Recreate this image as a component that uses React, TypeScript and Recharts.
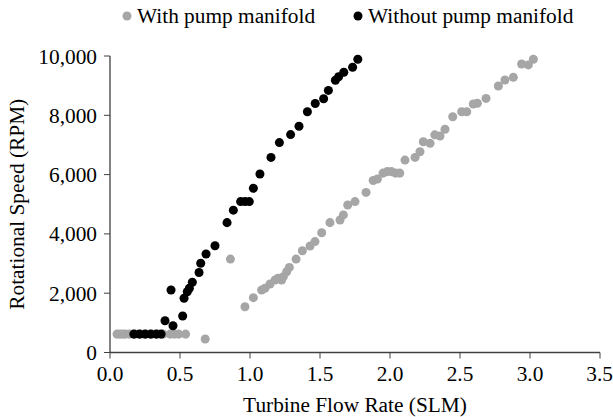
import React from 'react';
import { ScatterChart, Scatter, XAxis, YAxis, Legend } from 'recharts';

const seriesNames = ['With pump manifold', 'Without pump manifold'];
const seriesColors = ['#a6a6a6', '#000000'];

const withX = [0.05, 0.07, 0.09, 0.11, 0.14, 0.18, 0.22, 0.26, 0.3, 0.34, 0.38, 0.43, 0.46, 0.49, 0.54, 0.68, 0.86,
  0.964, 1.024, 1.083, 1.107, 1.143, 1.179, 1.2, 1.226, 1.238, 1.262, 1.281, 1.329, 1.374, 1.429, 1.464, 1.512,
  1.571, 1.643, 1.667, 1.698, 1.75, 1.829, 1.88, 1.91, 1.95, 1.98, 2.01, 2.04, 2.07, 2.107, 2.179, 2.214, 2.238,
  2.286, 2.32, 2.357, 2.393, 2.448, 2.512, 2.548, 2.595, 2.624, 2.686, 2.774, 2.821, 2.881, 2.94, 2.988, 3.024];
const withY = [620, 620, 620, 620, 620, 620, 620, 620, 620, 620, 620, 620, 620, 620, 620, 455, 3150,
  1545, 1850, 2110, 2165, 2310, 2445, 2500, 2445, 2556, 2725, 2870, 3150, 3430, 3590, 3740, 4040,
  4380, 4470, 4640, 4975, 5090, 5400, 5800, 5850, 6050, 6100, 6100, 6050, 6050, 6490, 6580, 6770, 7110,
  7055, 7340, 7300, 7530, 7950, 8120, 8120, 8380, 8405, 8570, 8990, 9190, 9280, 9730, 9700, 9890];

const withoutX = [0.17, 0.21, 0.25, 0.29, 0.33, 0.365, 0.393, 0.45, 0.436, 0.519, 0.529, 0.552, 0.567, 0.588,
  0.636, 0.648, 0.686, 0.75, 0.836, 0.881, 0.933, 0.964, 0.995, 1.024, 1.071, 1.15, 1.21, 1.29, 1.35, 1.41,
  1.466, 1.526, 1.56, 1.61, 1.633, 1.67, 1.733, 1.77];
const withoutY = [620, 620, 620, 620, 620, 620, 1070, 900, 2110, 1230, 1830, 2050, 2165, 2370,
  2700, 3010, 3320, 3600, 4380, 4800, 5090, 5090, 5090, 5540, 6020, 6580, 7080, 7350, 7630, 8120,
  8400, 8560, 8840, 9180, 9300, 9450, 9620, 9890];

const xTicks = [0, 0.5, 1, 1.5, 2, 2.5, 3, 3.5];
const yTicks = [0, 2000, 4000, 6000, 8000, 10000];

const withData = withX.map((x, i) => ({ x, y: withY[i] }));
const withoutData = withoutX.map((x, i) => ({ x, y: withoutY[i] }));

const FONT = '"Liberation Serif", "Times New Roman", Tinos, "DejaVu Serif", serif';
const FS = 21.33;
const AXIS = '#404040';

const LegendContent = () => (
  <div style={{ display: 'flex', fontFamily: FONT, fontSize: FS, color: '#000', lineHeight: '22px' }}>
    {seriesNames.map((n, i) => (
      <div key={n} style={{ display: 'flex', alignItems: 'center', marginRight: i === 0 ? 38 : 0 }}>
        <svg width={10} height={10} style={{ marginRight: 5 }}>
          <circle cx={5} cy={5} r={4.5} fill={seriesColors[i]} />
        </svg>
        <span>{n}</span>
      </div>
    ))}
  </div>
);

export default function App() {
  return (
    <div style={{ position: 'absolute', left: 0, top: 0, background: '#fff', fontFamily: FONT }}>
      <ScatterChart width={613} height={417} margin={{ top: 56, right: 13, bottom: 0, left: 0 }} style={{ fontFamily: FONT }}>
        <Legend
          verticalAlign="middle"
          align="center"
          content={<LegendContent />}
          wrapperStyle={{ position: 'absolute', left: 122, top: 5, width: 490, height: 22 }}
        />
        <XAxis
          type="number"
          dataKey="x"
          domain={[0, 3.5]}
          ticks={xTicks}
          tickFormatter={(v: number) => v.toFixed(1)}
          height={64.5}
          tickSize={6}
          tickMargin={7}
          stroke={AXIS}
          tick={{ fill: '#000', fontSize: FS, fontFamily: FONT }}
          axisLine={{ stroke: AXIS, strokeWidth: 1.3 }}
          label={{ value: 'Turbine Flow Rate (SLM)', position: 'insideBottom', offset: 5, style: { fill: '#000', fontSize: FS, fontFamily: FONT } }}
          allowDataOverflow
        />
        <YAxis
          type="number"
          dataKey="y"
          domain={[0, 10000]}
          ticks={yTicks}
          tickFormatter={(v: number) => v.toLocaleString('en-US')}
          width={110}
          tickSize={6}
          tickMargin={7}
          stroke={AXIS}
          tick={{ fill: '#000', fontSize: FS, fontFamily: FONT }}
          axisLine={{ stroke: AXIS, strokeWidth: 1.3 }}
          label={{ value: 'Rotational Speed (RPM)', angle: -90, position: 'insideLeft', offset: 16, style: { textAnchor: 'middle', fill: '#000', fontSize: FS, fontFamily: FONT } }}
        />
        <Scatter name={seriesNames[0]} data={withData} fill={seriesColors[0]} isAnimationActive={false} />
        <Scatter name={seriesNames[1]} data={withoutData} fill={seriesColors[1]} isAnimationActive={false} />
      </ScatterChart>
    </div>
  );
}
